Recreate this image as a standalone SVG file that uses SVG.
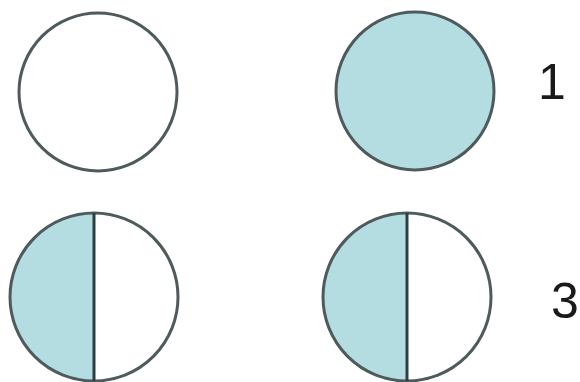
<svg xmlns="http://www.w3.org/2000/svg" width="580" height="382" viewBox="0 0 580 382">
<style>
.c{stroke:#4f5a5c;stroke-width:3}
.blue{fill:#b4dde2}
.white{fill:#ffffff}
.div{stroke:#2c3f42;stroke-width:3}
.lbl{font-family:"Liberation Sans",Arial,sans-serif;font-size:50px;fill:#1a1a1a}
</style>
<rect width="580" height="382" fill="#ffffff"/>
<g id="circle-empty">
<circle class="c white" cx="98" cy="92" r="79"/>
</g>
<g id="circle-full">
<circle class="c blue" cx="415" cy="91" r="79"/>
</g>
<g id="circle-half-left">
<path class="blue" d="M94,213 A84,84 0 0 0 94,381 Z"/>
<circle class="c" fill="none" cx="94" cy="297" r="84"/>
<line class="div" x1="94" y1="213" x2="94" y2="381"/>
</g>
<g id="circle-half-right">
<path class="blue" d="M407,213 A84,84 0 0 0 407,381 Z"/>
<circle class="c" fill="none" cx="407" cy="297" r="84"/>
<line class="div" x1="407" y1="213" x2="407" y2="381"/>
</g>
<g id="labels">
<text class="lbl" x="538" y="99">1</text>
<text class="lbl" x="551" y="318">3</text>
</g>
<g id="connectors"/>
</svg>
